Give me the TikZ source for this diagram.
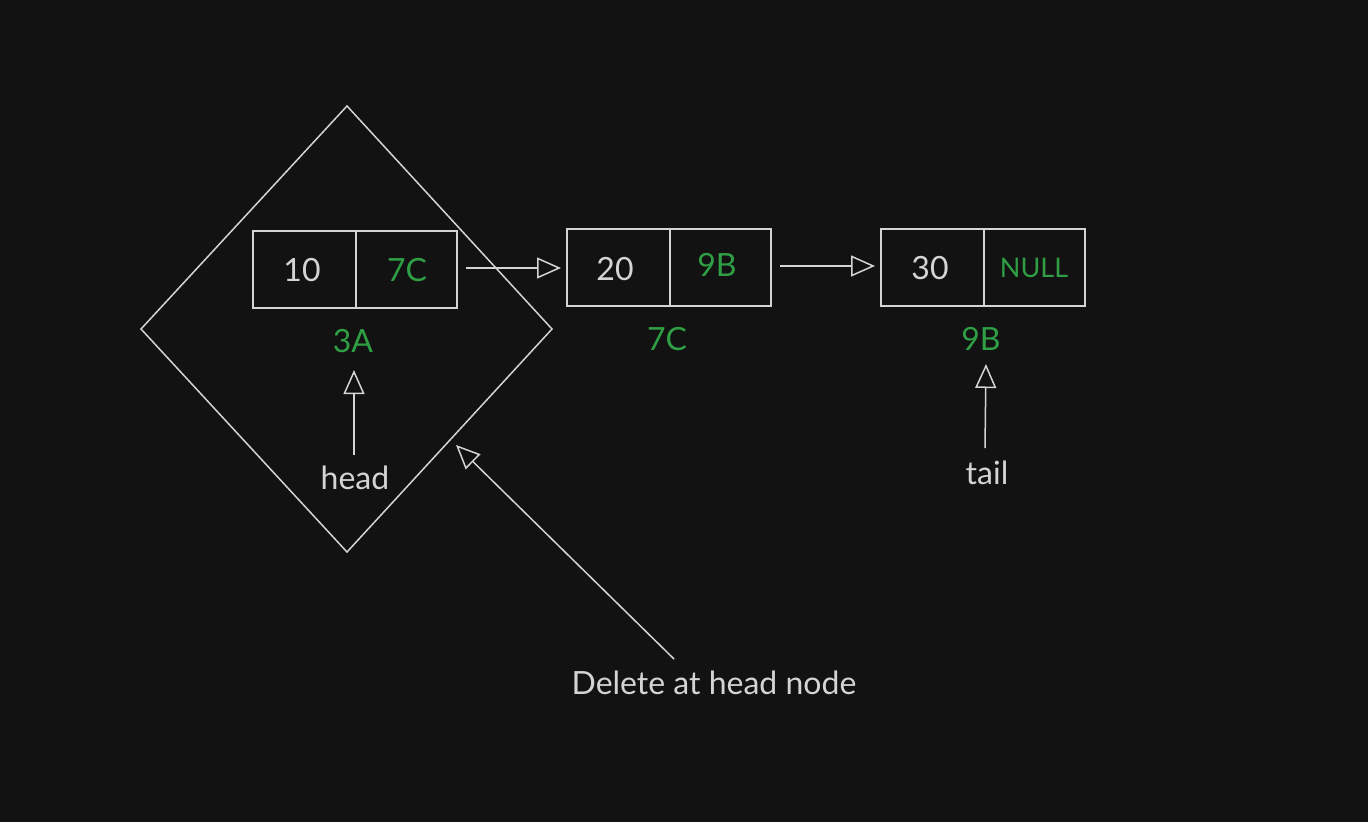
\documentclass[tikz,border=0pt]{standalone}
\usepackage{fontspec}
\setmainfont{Lato}
\usetikzlibrary{arrows.meta}
\definecolor{bg}{HTML}{121212}
\definecolor{ink}{HTML}{D4D4D4}
\definecolor{grn}{HTML}{2F9E44}
\begin{document}
\begin{tikzpicture}[x=1pt,y=-1pt,
  line/.style={draw=ink,line width=1.5pt},
  cell/.style={draw=ink,line width=1.5pt,minimum width=103pt,minimum height=77pt,inner sep=0pt,outer sep=0pt,anchor=north west},
  val/.style={text=ink,font=\fontsize{32}{36}\selectfont},
  addr/.style={text=grn,font=\fontsize{32}{36}\selectfont},
  lbl/.style={text=ink,font=\fontsize{32}{36}\selectfont},
  tip/.style={-{Triangle[open,length=24pt,width=21pt]}}
]
\useasboundingbox[fill=bg] (0,0) rectangle (1368,822);
% diamond
\coordinate (dt) at (347,106);
\coordinate (dl) at (141,329);
\coordinate (db) at (347,552);
\coordinate (dr) at (552,329);
\draw[line] (dt) -- (dr) -- (db) -- (dl) -- cycle;
% boxes
\node[cell,minimum width=103pt] (b1a) at (253,231) {};
\node[cell,minimum width=101pt] (b1b) at (356,231) {};
\node[cell,minimum width=103pt] (b2a) at (567,229) {};
\node[cell,minimum width=101pt] (b2b) at (670,229) {};
\node[cell,minimum width=103pt] (b3a) at (881,229) {};
\node[cell,minimum width=101pt] (b3b) at (984,229) {};
\node[val] (v1) at (302,270) {10};
\node[addr] (p1) at (407,270) {7C};
\node[val] (v2) at (615,269) {20};
\node[addr] (p2) at (717,265) {9B};
\node[val] (v3) at (930,268) {30};
\node[addr,font=\fontsize{27}{31}\selectfont] (p3) at (1034,268) {NULL};
% addresses
\node[addr] (a1) at (353,341) {3A};
\node[addr] (a2) at (667,339) {7C};
\node[addr] (a3) at (981,339) {9B};
% links
\draw[line,tip,shorten <=9pt,shorten >=6pt] ([yshift=1.5pt]b1b.east) -- ([yshift=1.5pt]b1b.east -| b2a.west);
\draw[line,tip,shorten <=9pt,shorten >=6pt] ([yshift=1.5pt]b2b.east) -- ([yshift=1.5pt]b2b.east -| b3a.west);
% head / tail
\node[lbl] (head) at (355,478) {head};
\node[lbl] (tail) at (987,473) {tail};
\coordinate (hs) at (354,455);
\coordinate (he) at (354,370);
\coordinate (ts) at (985,448);
\coordinate (te) at (986,364);
\draw[line,tip] (hs) -- (he);
\draw[line,tip] (ts) -- (te);
% delete
\node[lbl] (del) at (714,683) {Delete at head node};
\coordinate (ds) at (674,659);
\coordinate (dtgt) at (456,445);
\draw[line,tip] (ds) -- (dtgt);
\end{tikzpicture}
\end{document}
